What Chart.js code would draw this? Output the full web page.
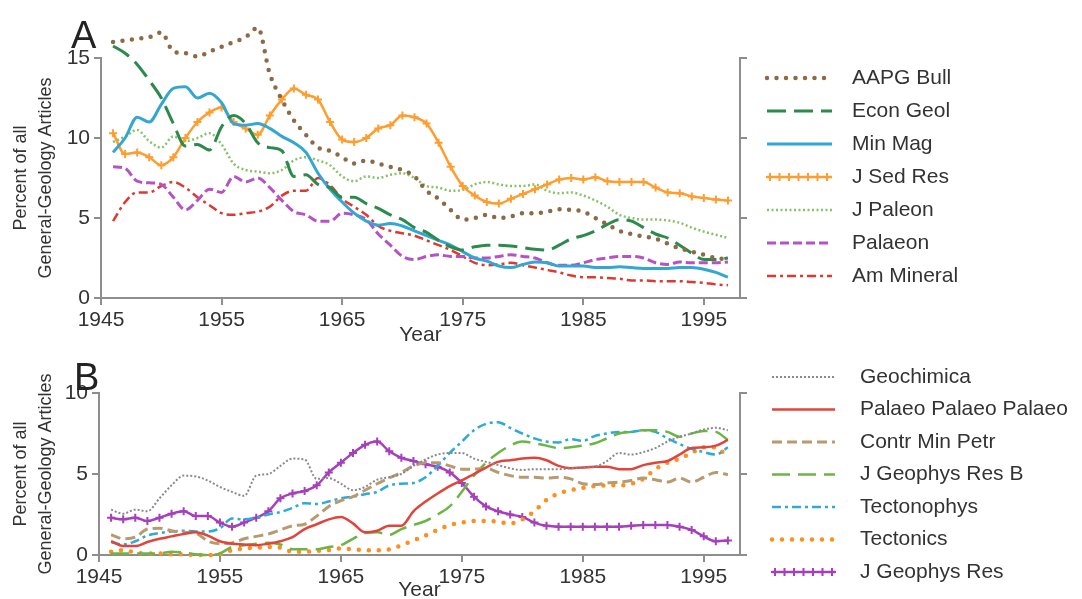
<!DOCTYPE html>
<html><head><meta charset="utf-8">
<script src="https://cdn.jsdelivr.net/npm/chart.js@4"></script>
<style>
html,body{margin:0;padding:0;width:1082px;height:599px;overflow:hidden;background:#fff;}
canvas{position:absolute;left:0;}
#ca{top:0;}
#cb{top:350px;}
</style></head>
<body>
<canvas id="ca" width="1082" height="350"></canvas>
<canvas id="cb" width="1082" height="260"></canvas>
<script>
const years = [1946,1947,1948,1949,1950,1951,1952,1953,1954,1955,1956,1957,1958,1959,1960,1961,1962,1963,1964,1965,1966,1967,1968,1969,1970,1971,1972,1973,1974,1975,1976,1977,1978,1979,1980,1981,1982,1983,1984,1985,1986,1987,1988,1989,1990,1991,1992,1993,1994,1995,1996,1997];
const xTickValues = [1945,1955,1965,1975,1985,1995];
const yTicksA = [0,5,10,15];
const yTicksB = [0,5,10];
const axisTitleY = ['Percent of all','General-Geology Articles'];
const axisTitleX = 'Year';

// Panel A
const aapgBull   = [16.0,16.1,16.2,16.3,16.6,15.4,15.3,15.1,15.4,15.7, 16.0,16.3,16.9,14.0,12.4,11.1,10.2,9.4,9.2,8.8, 8.4,8.6,8.4,8.2,8.0,7.6,6.7,6.2,5.5,4.9, 5.0,5.2,5.0,5.1,5.3,5.3,5.4,5.55,5.5,5.4, 5.0,4.6,4.2,4.0,3.85,3.7,3.4,3.1,2.9,2.7, 2.5,2.4];
const econGeol   = [15.75,15.3,14.6,13.6,12.5,10.9,9.5,9.6,9.25,10.7, 11.4,10.9,9.7,9.4,9.2,7.6,7.7,7.1,6.9,6.3, 6.3,5.9,5.6,5.2,4.9,4.4,4.1,3.6,3.2,3.0, 3.2,3.3,3.3,3.25,3.15,3.05,3.0,3.3,3.7,3.9, 4.2,4.6,4.9,4.8,4.4,4.0,3.75,3.3,2.8,2.4, 2.4,2.5];
const minMag     = [9.1,10.0,11.3,11.0,12.1,13.1,13.2,12.5,12.8,12.2, 10.9,10.8,10.9,10.6,10.1,9.7,9.1,7.8,6.8,6.0, 5.3,4.8,4.55,4.65,4.5,4.2,3.9,3.6,3.3,2.9, 2.5,2.3,2.0,1.9,2.1,2.25,2.2,2.0,2.0,2.0, 1.9,1.9,1.95,1.9,1.85,1.85,1.85,1.9,1.9,1.8, 1.6,1.3];
const jSedRes    = [10.3,9.0,9.1,8.8,8.3,8.8,10.0,11.0,11.6,11.9, 11.0,10.6,10.2,11.4,12.4,13.1,12.7,12.4,11.0,9.9, 9.75,10.0,10.6,10.8,11.4,11.3,10.9,9.7,8.2,7.0, 6.4,6.0,5.9,6.2,6.5,6.8,7.1,7.4,7.5,7.4, 7.55,7.3,7.25,7.25,7.25,6.9,6.6,6.55,6.35,6.25, 6.15,6.1];
const jPaleon    = [9.75,10.1,10.5,9.8,9.4,10.1,9.8,10.0,10.3,9.6, 8.4,8.0,7.9,7.8,8.0,8.6,8.8,8.6,8.3,7.6, 7.3,7.6,7.5,7.7,7.8,7.5,7.0,6.9,6.7,6.75, 7.1,7.25,7.1,7.0,7.0,7.1,6.7,6.55,6.6,6.4, 6.1,5.7,5.2,5.0,4.9,4.9,4.85,4.7,4.4,4.15, 3.95,3.75];
const palaeon    = [8.2,8.1,7.3,7.2,7.1,6.3,5.5,6.1,6.8,6.6, 7.6,7.25,7.5,6.9,6.1,5.4,5.2,4.8,4.8,5.3, 5.2,4.9,4.0,3.3,2.6,2.4,2.6,2.7,2.6,2.6, 2.5,2.5,2.6,2.7,2.6,2.5,2.2,2.05,2.05,2.2, 2.4,2.5,2.6,2.6,2.5,2.2,2.1,2.25,2.2,2.2, 2.2,2.25];
const amMineral  = [4.8,6.0,6.6,6.6,7.0,7.25,6.9,6.3,5.8,5.3, 5.2,5.3,5.4,5.7,6.4,6.7,6.7,7.5,7.05,6.2, 5.7,5.2,4.5,4.2,4.05,3.9,3.6,3.3,3.0,2.6, 2.2,2.05,2.1,2.2,2.05,1.9,1.75,1.6,1.4,1.3, 1.3,1.25,1.2,1.1,1.1,1.05,1.05,1.05,1.0,0.95, 0.85,0.8];

// Panel B
const geochimica = [2.8,2.55,2.8,2.7,3.5,4.3,4.9,4.85,4.6,4.2, 3.9,3.65,4.9,5.0,5.5,5.95,5.9,4.7,4.75,4.4, 4.0,4.2,4.65,4.8,5.0,5.5,5.9,6.2,6.3,6.3, 5.95,5.75,5.55,5.35,5.25,5.3,5.3,5.3,5.35,5.4, 5.45,5.8,6.3,6.2,6.35,6.6,7.0,7.3,7.5,7.75, 7.85,7.7];
const palaeoPPP  = [0.85,0.55,0.55,0.8,1.0,1.15,1.3,1.4,1.2,0.85, 0.7,0.65,0.6,0.7,0.85,1.1,1.6,1.9,2.2,2.35, 1.95,1.4,1.5,1.8,1.8,2.7,3.3,3.8,4.25,4.6, 5.0,5.4,5.75,5.85,5.95,6.0,5.85,5.5,5.35,5.4, 5.45,5.45,5.3,5.3,5.55,5.7,5.8,6.2,6.6,6.65, 6.75,7.1];
const contrMinPetr=[1.25,1.0,1.1,1.6,1.65,1.5,1.4,1.35,0.85,0.7, 0.75,1.0,1.15,1.3,1.55,1.8,1.9,2.4,3.0,3.35, 3.6,4.0,4.4,4.75,5.1,5.5,5.7,5.7,5.5,5.3, 5.3,5.35,5.1,4.9,4.8,4.8,4.75,4.8,4.7,4.4, 4.35,4.45,4.5,4.6,4.75,4.65,4.5,4.75,4.5,4.8, 5.1,4.95];
const jGeophysResB=[0.1,0.1,0.1,0.1,0.1,0.2,0.15,0.05,0.0,0.1, 0.5,0.6,0.7,0.75,0.65,0.35,0.35,0.35,0.5,0.6, 1.0,1.35,1.4,1.25,1.6,1.85,2.1,2.5,3.0,3.9, 4.9,5.7,6.3,6.75,7.0,6.9,6.75,6.6,6.65,6.75, 6.9,7.2,7.5,7.6,7.7,7.7,7.6,7.3,7.5,7.65, 7.6,7.1];
const tectonophys= [0.8,0.65,0.85,1.2,1.35,1.45,1.5,1.45,1.45,1.65, 2.25,2.2,2.3,2.5,2.65,2.9,3.2,3.15,3.3,3.5, 3.6,3.75,3.9,4.3,4.4,4.45,4.8,5.5,6.3,7.0, 7.7,8.1,8.2,7.85,7.5,7.2,7.0,6.95,7.15,7.05, 7.35,7.5,7.6,7.6,7.7,7.6,7.2,6.85,6.55,6.35, 6.2,6.65];
const tectonics  = [0.2,0.3,0.15,0.1,0.1,0.05,0.05,0.0,0.0,0.05, 0.3,0.4,0.45,0.5,0.45,0.2,0.2,0.25,0.3,0.4, 0.35,0.3,0.3,0.35,0.6,0.9,1.2,1.55,1.85,2.0, 2.1,2.1,2.05,1.95,2.2,2.7,3.4,3.8,4.0,4.15, 4.25,4.3,4.3,4.4,4.7,5.3,5.7,5.95,6.3,6.65, 6.65,6.0];
const jGeophysRes= [2.3,2.2,2.3,2.1,2.3,2.55,2.7,2.4,2.4,2.0, 1.75,2.0,2.3,2.7,3.5,3.8,3.95,4.3,5.1,5.7, 6.3,6.8,7.0,6.4,6.0,5.8,5.6,5.45,5.1,4.45, 3.6,3.0,2.7,2.5,2.35,2.0,1.8,1.75,1.75,1.75, 1.75,1.75,1.75,1.8,1.85,1.85,1.85,1.75,1.55,1.15, 0.85,0.9];

const FONT = '"Liberation Sans", Arial, Helvetica, sans-serif';
const TXT = '#333333';
const AXIS = '#8e8e8e';
Chart.defaults.font.family = FONT;
Chart.defaults.color = TXT;

function pts(vals){ return years.map((y,i)=>({x:y,y:vals[i]})); }

function ds(label, vals, color, width, dash, cap, marker){
  return {
    label, data: pts(vals), borderColor: color, backgroundColor: color,
    borderWidth: width, borderDash: dash, borderCapStyle: cap || 'butt',
    pointRadius: marker ? 4 : 0, pointStyle: 'cross', pointBorderWidth: marker ? 2 : 0,
    pointBorderColor: color, cubicInterpolationMode: 'monotone', clip: false, fill: false,
    _marker: !!marker
  };
}

const sideLegend = {
  id: 'sideLegend',
  afterDraw(chart, args, o){
    const ctx = chart.ctx;
    ctx.save();
    chart.data.datasets.forEach((d, i) => {
      const y = o.y0 + i*o.dy;
      ctx.save();
      ctx.strokeStyle = d.borderColor;
      ctx.lineWidth = d.borderWidth;
      ctx.setLineDash(d.borderDash || []);
      ctx.lineCap = d.borderCapStyle || 'butt';
      ctx.beginPath(); ctx.moveTo(o.x0, y); ctx.lineTo(o.x1, y); ctx.stroke();
      if (d._marker){
        ctx.setLineDash([]); ctx.lineWidth = 2; ctx.lineCap='butt';
        for (let x = o.x0 + 3; x <= o.x1; x += 9.5){
          ctx.beginPath();
          ctx.moveTo(x-4, y); ctx.lineTo(x+4, y);
          ctx.moveTo(x, y-4); ctx.lineTo(x, y+4);
          ctx.stroke();
        }
      }
      ctx.restore();
      ctx.fillStyle = TXT;
      ctx.font = '21px ' + FONT;
      ctx.textBaseline = 'middle';
      ctx.textAlign = 'left';
      ctx.fillText(d.label, o.tx, y);
    });
    ctx.fillStyle = '#222';
    ctx.font = '38px ' + FONT;
    ctx.textBaseline = 'alphabetic';
    ctx.fillText(o.letter, o.lx, o.ly);
    ctx.restore();
  }
};

function makeChart(id, datasets, yTicks, ymax, leftW, top, legend){
  const setTicks = arr => (s => { s.ticks = arr.map(v => ({value: v})); });
  return new Chart(document.getElementById(id), {
    type: 'line',
    data: { datasets },
    plugins: [sideLegend],
    options: {
      responsive: false, animation: false, devicePixelRatio: 1,
      layout: { padding: { left: 0, top: top, right: 332, bottom: legend.pb } },
      plugins: { legend: {display:false}, tooltip: {enabled:false}, sideLegend: legend },
      elements: { line: { tension: 0.4 } },
      scales: {
        x: {
          type: 'linear', min: 1945, max: 1998,
          afterBuildTicks: setTicks(xTickValues),
          afterFit: s => { s.height = legend.xh; },
          ticks: { autoSkip: false, maxRotation: 0, padding: 3, font: {size: 21}, color: TXT,
                   callback: v => String(v) },
          grid: { drawOnChartArea: false, drawTicks: true, tickLength: 7, color: AXIS, lineWidth: 2 },
          border: { display: true, color: AXIS, width: 2 },
          title: { display: true, text: axisTitleX, font: {size: 21}, color: TXT, padding: {top:0, bottom:0} }
        },
        y: {
          type: 'linear', position: 'left', min: 0, max: ymax,
          afterBuildTicks: setTicks(yTicks),
          afterFit: s => { s.width = leftW; },
          ticks: { padding: 4, font: {size: 21}, color: TXT, callback: v => String(v) },
          grid: { drawOnChartArea: false, drawTicks: true, tickLength: 7, color: AXIS, lineWidth: 2 },
          border: { display: true, color: AXIS, width: 2 },
          title: { display: true, text: axisTitleY, font: {size: 18, lineHeight: 1.4}, color: TXT, padding: {top: 8, bottom: 0} }
        },
        y2: {
          type: 'linear', position: 'right', min: 0, max: ymax,
          afterBuildTicks: setTicks(yTicks),
          afterFit: s => { s.width = 10; },
          ticks: { display: false },
          grid: { drawOnChartArea: false, drawTicks: true, tickLength: 7, color: AXIS, lineWidth: 2 },
          border: { display: true, color: AXIS, width: 2 }
        }
      }
    }
  });
}

const dsA = [
  ds('AAPG Bull', aapgBull, '#8c6a45', 4.5, [0, 9.5], 'round'),
  ds('Econ Geol', econGeol, '#2b8a4c', 3, [19, 8]),
  ds('Min Mag', minMag, '#33a6d2', 3),
  ds('J Sed Res', jSedRes, '#ff9d2e', 2.5, [], 'butt', true),
  ds('J Paleon', jPaleon, '#86c266', 2.5, [2, 2.5]),
  ds('Palaeon', palaeon, '#b452c6', 3, [9, 4]),
  ds('Am Mineral', amMineral, '#dc3a30', 2.5, [9, 4, 3, 4])
];
const dsB = [
  ds('Geochimica', geochimica, '#8a8a8a', 2, [2, 2]),
  ds('Palaeo Palaeo Palaeo', palaeoPPP, '#e0453c', 2.5),
  ds('Contr Min Petr', contrMinPetr, '#b99a70', 3, [10, 5]),
  ds('J Geophys Res B', jGeophysResB, '#6cb544', 2.5, [18, 8]),
  ds('Tectonophys', tectonophys, '#2eaad6', 2.5, [9, 4, 3, 4]),
  ds('Tectonics', tectonics, '#ff8e1c', 4.5, [0, 10], 'round'),
  ds('J Geophys Res', jGeophysRes, '#a63fbc', 2.5, [], 'butt', true)
];

makeChart('ca', dsA, yTicksA, 15, 101, 58,
  { x0: 767, x1: 832, tx: 852, y0: 78, dy: 33, letter: 'A', lx: 71, ly: 48, xh: 50, pb: 2 });
makeChart('cb', dsB, yTicksB, 10, 99, 43,
  { x0: 772, x1: 835, tx: 860, y0: 27, dy: 32.5, letter: 'B', lx: 74, ly: 40, xh: 48, pb: 7 });
</script>
</body></html>
